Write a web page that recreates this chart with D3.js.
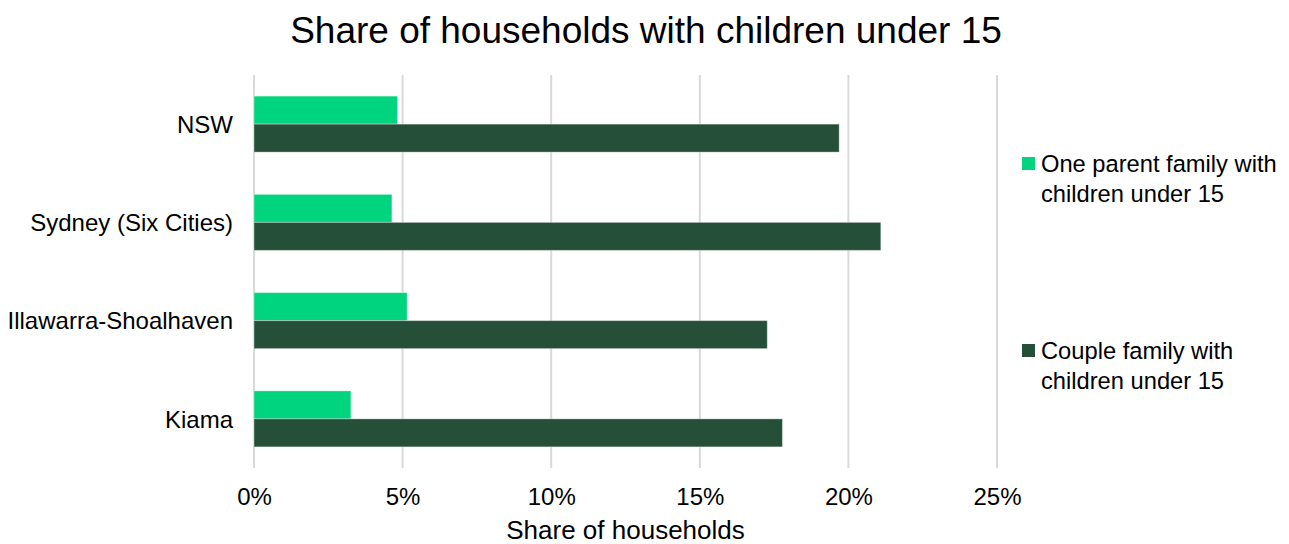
<!DOCTYPE html>
<html>
<head>
<meta charset="utf-8">
<script src="https://d3js.org/d3.v7.min.js"></script>
<style>
  body { margin: 0; background: #fff; }
  text { font-family: "Liberation Sans", Arial, sans-serif; fill: #000; }
</style>
</head>
<body>
<div id="chart"></div>
<script>
  var categories = ["NSW", "Sydney (Six Cities)", "Illawarra-Shoalhaven", "Kiama"];
  var seriesNames = ["One parent family with children under 15", "Couple family with children under 15"];
  var onePrt = [0.0483, 0.0464, 0.0515, 0.0326];
  var couple = [0.1969, 0.2109, 0.1727, 0.1778];
  var xTicks = [0, 0.05, 0.10, 0.15, 0.20, 0.25];
  var colours = ["#00d47f", "#264f3a"];

  var width = 1289, height = 544;
  var plotLeft = 254, plotRight = 997, plotTop = 75, plotBottom = 468;

  var svg = d3.select("#chart").append("svg")
    .attr("width", width).attr("height", height);

  var x = d3.scaleLinear().domain([0, 0.25]).range([plotLeft, plotRight]);
  var y = d3.scaleBand().domain(categories).range([plotTop, plotBottom])
    .paddingInner(0.43).paddingOuter(0.215);
  var ySub = d3.scaleBand().domain([0, 1]).range([0, y.bandwidth()]);

  // gridlines
  svg.append("g").selectAll("line").data(xTicks).enter().append("line")
    .attr("x1", function(d) { return x(d); })
    .attr("x2", function(d) { return x(d); })
    .attr("y1", plotTop).attr("y2", plotBottom)
    .attr("stroke", "#d9d9d9").attr("stroke-width", 2);

  // bars
  var rows = categories.map(function(c, i) { return {cat: c, vals: [onePrt[i], couple[i]]}; });
  var grp = svg.append("g").selectAll("g").data(rows).enter().append("g")
    .attr("transform", function(d) { return "translate(0," + y(d.cat) + ")"; });
  grp.selectAll("rect").data(function(d) { return d.vals; }).enter().append("rect")
    .attr("x", x(0))
    .attr("y", function(d, j) { return ySub(j); })
    .attr("width", function(d) { return x(d) - x(0); })
    .attr("height", ySub.bandwidth())
    .attr("fill", function(d, j) { return colours[j]; })
    .attr("stroke", "#ffffff").attr("stroke-opacity", 0.35).attr("stroke-width", 1);

  // x axis labels
  var xAxis = d3.axisBottom(x).tickValues(xTicks).tickFormat(d3.format(".0%")).tickSize(0).tickPadding(0);
  var xg = svg.append("g").attr("transform", "translate(0,505)").call(xAxis);
  xg.select(".domain").remove();
  xg.selectAll("text").attr("dy", 0).style("font-size", "24px")
    .style("font-family", "'Liberation Sans', Arial, sans-serif").attr("fill", "#000");

  // y axis labels
  var yAxis = d3.axisLeft(y).tickSize(0).tickPadding(0);
  var yg = svg.append("g").attr("transform", "translate(233,0)").call(yAxis);
  yg.select(".domain").remove();
  yg.selectAll("text").attr("dy", "0.36em").style("font-size", "24px")
    .style("font-family", "'Liberation Sans', Arial, sans-serif").attr("fill", "#000");

  // title
  svg.append("text").attr("x", 646).attr("y", 43).attr("text-anchor", "middle")
    .style("font-size", "37px").text("Share of households with children under 15");

  // axis title
  svg.append("text").attr("x", (plotLeft + plotRight) / 2).attr("y", 539).attr("text-anchor", "middle")
    .style("font-size", "26px").text("Share of households");

  // legend
  var legendY = [157, 344];
  var leg = svg.append("g").selectAll("g").data(seriesNames).enter().append("g")
    .attr("transform", function(d, i) { return "translate(1022," + legendY[i] + ")"; });
  leg.append("rect").attr("width", 13).attr("height", 13)
    .attr("fill", function(d, i) { return colours[i]; });
  leg.each(function(d) {
    var words = d.split(" ");
    var lines = [words.slice(0, words.indexOf("with") + 1).join(" "),
                 words.slice(words.indexOf("with") + 1).join(" ")];
    var t = d3.select(this).append("text").attr("x", 19).attr("y", 14.5).style("font-size", "23.7px");
    lines.forEach(function(l, k) {
      t.append("tspan").attr("x", 19).attr("dy", k === 0 ? 0 : 30).text(l);
    });
  });
</script>
</body>
</html>
